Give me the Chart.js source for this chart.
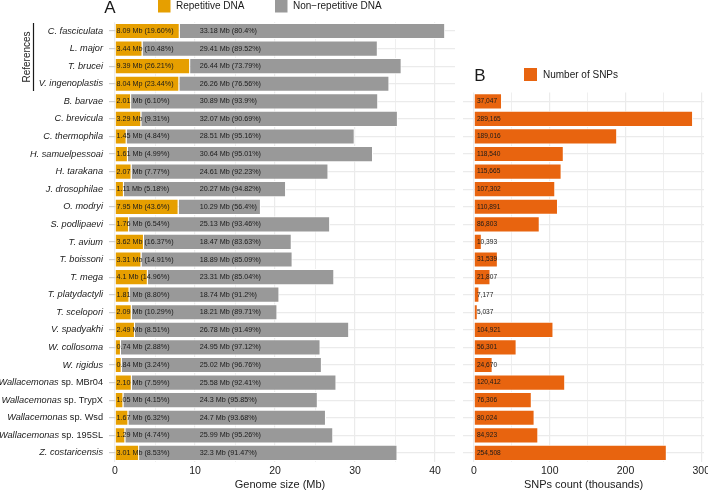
<!DOCTYPE html>
<html>
<head>
<meta charset="utf-8">
<script src="https://cdn.jsdelivr.net/npm/chart.js@4.4.1/dist/chart.umd.min.js"></script>
<style>
  body { margin: 0; background: #fff; }
  #wrapA { position: absolute; left: 0; top: 0; width: 460px; height: 491px; }
  #wrapB { position: absolute; left: 460px; top: 0; width: 248px; height: 491px; }
</style>
</head>
<body>
<div id="wrapA"><canvas id="genomeChart"></canvas></div>
<div id="wrapB"><canvas id="snpChart"></canvas></div>
<script>
// species, top to bottom (first four are the reference genomes)
const species = ['C. fasciculata', 'L. major', 'T. brucei', 'V. ingenoplastis', 'B. barvae', 'C. brevicula',
  'C. thermophila', 'H. samuelpessoai', 'H. tarakana', 'J. drosophilae', 'O. modryi', 'S. podlipaevi',
  'T. avium', 'T. boissoni', 'T. mega', 'T. platydactyli', 'T. scelopori', 'V. spadyakhi', 'W. collosoma',
  'W. rigidus', 'Wallacemonas sp. MBr04', 'Wallacemonas sp. TrypX', 'Wallacemonas sp. Wsd',
  'Wallacemonas sp. 195SL', 'Z. costaricensis'];

// genome size in Mb
const repMb = [8.09, 3.44, 9.39, 8.04, 2.01, 3.29, 1.45, 1.61, 2.07, 1.11, 7.95, 1.76, 3.62, 3.31, 4.1,
  1.81, 2.09, 2.49, 0.74, 0.84, 2.10, 1.05, 1.67, 1.29, 3.01];
const nonRepMb = [33.18, 29.41, 26.44, 26.26, 30.89, 32.07, 28.51, 30.64, 24.61, 20.27, 10.29, 25.13, 18.47,
  18.89, 23.31, 18.74, 18.21, 26.78, 24.95, 25.02, 25.58, 24.3, 24.7, 25.99, 32.3];

const repText = ['8.09 Mb (19.60%)', '3.44 Mb (10.48%)', '9.39 Mb (26.21%)', '8.04 Mp (23.44%)', '2.01 Mb (6.10%)',
  '3.29 Mb (9.31%)', '1.45 Mb (4.84%)', '1.61 Mb (4.99%)', '2.07 Mb (7.77%)', '1.11 Mb (5.18%)', '7.95 Mb (43.6%)',
  '1.76 Mb (6.54%)', '3.62 Mb (16.37%)', '3.31 Mb (14.91%)', '4.1 Mb (14.96%)', '1.81 Mb (8.80%)',
  '2.09 Mb (10.29%)', '2.49 Mb (8.51%)', '0.74 Mb (2.88%)', '0.84 Mb (3.24%)', '2.10 Mb (7.59%)',
  '1.05 Mb (4.15%)', '1.67 Mb (6.32%)', '1.29 Mb (4.74%)', '3.01 Mb (8.53%)'];
const nonRepText = ['33.18 Mb (80.4%)', '29.41 Mb (89.52%)', '26.44 Mb (73.79%)', '26.26 Mb (76.56%)',
  '30.89 Mb (93.9%)', '32.07 Mb (90.69%)', '28.51 Mb (95.16%)', '30.64 Mb (95.01%)', '24.61 Mb (92.23%)',
  '20.27 Mb (94.82%)', '10.29 Mb (56.4%)', '25.13 Mb (93.46%)', '18.47 Mb (83.63%)', '18.89 Mb (85.09%)',
  '23.31 Mb (85.04%)', '18.74 Mb (91.2%)', '18.21 Mb (89.71%)', '26.78 Mb (91.49%)', '24.95 Mb (97.12%)',
  '25.02 Mb (96.76%)', '25.58 Mb (92.41%)', '24.3 Mb (95.85%)', '24.7 Mb (93.68%)', '25.99 Mb (95.26%)',
  '32.3 Mb (91.47%)'];

// SNPs are only shown for the non-reference species
const snpSpecies = species.slice(4);
const snpCounts = [37047, 289165, 189016, 118540, 115665, 107302, 110891, 86803, 10393, 31539, 21807,
  7177, 5037, 104921, 56301, 24670, 120412, 76306, 80024, 84923, 254508];

const genomeTicks = [0, 10, 20, 30, 40];
const snpTicks = [0, 100, 200, 300];

const FONT = '"Liberation Sans", Arial, Helvetica, sans-serif';
const ORANGE = '#E69F00';
const GREY = '#999999';
const SNP_COL = '#E8640F';
const GRID = '#ebebeb';
const NONREP_LABEL_AT = 10.6; // where the non-repetitive text starts (Mb)

function drawSpeciesLabel(ctx, name, xRight, y) {
  // genus italic, "sp. xxx" upright
  const parts = name.split(' sp. ');
  if (parts.length === 2) {
    ctx.font = '9.2px ' + FONT;
    const rest = ' sp. ' + parts[1];
    const wRest = ctx.measureText(rest).width;
    ctx.fillText(rest, xRight, y);
    ctx.font = 'italic 9.2px ' + FONT;
    ctx.fillText(parts[0], xRight - wRest, y);
  } else {
    ctx.font = 'italic 9.2px ' + FONT;
    ctx.fillText(name, xRight, y);
  }
}

const genomeLabels = {
  id: 'genomeLabels',
  afterDatasetsDraw(chart) {
    const { ctx, scales: { x, y } } = chart;
    ctx.save();
    ctx.font = '7.2px ' + FONT;
    ctx.fillStyle = '#1a1a1a';
    ctx.textBaseline = 'middle';
    ctx.textAlign = 'left';
    species.forEach((s, i) => {
      const py = y.getPixelForValue(i);
      ctx.fillText(repText[i], x.getPixelForValue(0) + 1.5, py);
      ctx.fillText(nonRepText[i], x.getPixelForValue(NONREP_LABEL_AT), py);
    });
    ctx.restore();
  },
  afterDraw(chart) {
    const { ctx, chartArea, scales: { y } } = chart;
    ctx.save();
    ctx.fillStyle = '#1a1a1a';
    ctx.textBaseline = 'middle';
    ctx.textAlign = 'right';
    species.forEach((s, i) => drawSpeciesLabel(ctx, s, chartArea.left - 12, y.getPixelForValue(i)));

    // References bracket
    ctx.strokeStyle = '#1a1a1a';
    ctx.lineWidth = 1.2;
    ctx.beginPath();
    ctx.moveTo(33.5, 23);
    ctx.lineTo(33.5, 91);
    ctx.stroke();
    ctx.save();
    ctx.translate(27.5, 57);
    ctx.rotate(-Math.PI / 2);
    ctx.textAlign = 'center';
    ctx.font = '10px ' + FONT;
    ctx.fillText('References', 0, 0);
    ctx.restore();

    // panel letter + legend
    ctx.textAlign = 'center';
    ctx.font = '17px ' + FONT;
    ctx.fillText('A', 110, 8);
    ctx.fillStyle = ORANGE;
    ctx.fillRect(158, 0, 12.5, 12.5);
    ctx.fillStyle = GREY;
    ctx.fillRect(275, 0, 12.5, 12.5);
    ctx.fillStyle = '#1a1a1a';
    ctx.textAlign = 'left';
    ctx.font = '10px ' + FONT;
    ctx.fillText('Repetitive DNA', 176, 6.5);
    ctx.fillText('Non\u2212repetitive DNA', 293, 6.5);

    // axis title
    ctx.textAlign = 'center';
    ctx.font = '11px ' + FONT;
    ctx.fillText('Genome size (Mb)', 280, 485);
    ctx.restore();
  }
};

const snpLabels = {
  id: 'snpLabels',
  afterDatasetsDraw(chart) {
    const { ctx, scales: { x, y } } = chart;
    ctx.save();
    ctx.font = '6.6px ' + FONT;
    ctx.fillStyle = '#1a1a1a';
    ctx.textBaseline = 'middle';
    ctx.textAlign = 'left';
    snpCounts.forEach((v, i) => {
      ctx.fillText(v.toLocaleString('en-US'), x.getPixelForValue(0) + 3, y.getPixelForValue(i));
    });
    ctx.restore();
  },
  afterDraw(chart) {
    const { ctx, chartArea } = chart;
    ctx.save();
    ctx.fillStyle = '#1a1a1a';
    ctx.textBaseline = 'middle';
    ctx.textAlign = 'center';
    ctx.font = '17px ' + FONT;
    ctx.fillText('B', 20, 76);
    ctx.fillStyle = SNP_COL;
    ctx.fillRect(64, 68, 13, 13);
    ctx.fillStyle = '#1a1a1a';
    ctx.textAlign = 'left';
    ctx.font = '10px ' + FONT;
    ctx.fillText('Number of SNPs', 83, 75);
    ctx.textAlign = 'center';
    ctx.font = '11px ' + FONT;
    ctx.fillText('SNPs count (thousands)', (chartArea.left + chartArea.right) / 2, 485);
    ctx.restore();
  }
};

const gridWidth = (ctx) => (ctx.tick && ctx.tick.value % 10 === 0 ? 1.2 : 0.8);

new Chart(document.getElementById('genomeChart'), {
  type: 'bar',
  data: {
    labels: species,
    datasets: [
      { label: 'Repetitive DNA', data: repMb, backgroundColor: ORANGE, borderColor: '#fff', borderWidth: 1 },
      { label: 'Non-repetitive DNA', data: nonRepMb, backgroundColor: GREY, borderColor: '#fff', borderWidth: 1 }
    ]
  },
  options: {
    indexAxis: 'y',
    responsive: true,
    maintainAspectRatio: false,
    animation: false,
    devicePixelRatio: 1,
    layout: { padding: { left: 0, right: 5, top: 22.2, bottom: 0 } },
    datasets: { bar: { barPercentage: 0.92, categoryPercentage: 1 } },
    plugins: { legend: { display: false }, tooltip: { enabled: false } },
    scales: {
      x: {
        stacked: true,
        min: 0,
        max: 42.5,
        afterBuildTicks: (s) => { s.ticks = [0, 5, 10, 15, 20, 25, 30, 35, 40].map(v => ({ value: v })); },
        ticks: {
          padding: 3,
          color: '#222',
          font: { family: FONT, size: 10.5 },
          callback: (v) => (genomeTicks.includes(v) ? String(v) : '')
        },
        grid: { color: GRID, lineWidth: gridWidth, drawTicks: false },
        border: { display: false },
        afterFit: (s) => { s.height = 29.3; s.paddingLeft = 0; s.paddingRight = 0; }
      },
      y: {
        stacked: true,
        ticks: { display: false },
        grid: { offset: false, color: GRID, lineWidth: 1.2, tickColor: '#cfcfcf', tickLength: 6 },
        border: { display: false },
        afterFit: (s) => { s.width = 115; }
      }
    }
  },
  plugins: [genomeLabels]
});

new Chart(document.getElementById('snpChart'), {
  type: 'bar',
  data: {
    labels: snpSpecies,
    datasets: [
      { label: 'Number of SNPs', data: snpCounts.map(v => v / 1000), backgroundColor: SNP_COL, borderColor: '#fff', borderWidth: 1 }
    ]
  },
  options: {
    indexAxis: 'y',
    responsive: true,
    maintainAspectRatio: false,
    animation: false,
    devicePixelRatio: 1,
    layout: { padding: { left: 3, right: 4, top: 92.5, bottom: 0 } },
    datasets: { bar: { barPercentage: 0.92, categoryPercentage: 1 } },
    plugins: { legend: { display: false }, tooltip: { enabled: false } },
    scales: {
      x: {
        min: -14.46,
        max: 303.6,
        afterBuildTicks: (s) => { s.ticks = [0, 50, 100, 150, 200, 250, 300].map(v => ({ value: v })); },
        ticks: {
          padding: 3,
          color: '#222',
          font: { family: FONT, size: 10.5 },
          callback: (v) => (snpTicks.includes(v) ? String(v) : '')
        },
        grid: { color: GRID, lineWidth: (ctx) => (ctx.tick && ctx.tick.value % 100 === 0 ? 1.2 : 0.8), drawTicks: false },
        border: { display: false },
        afterFit: (s) => { s.height = 29.3; s.paddingLeft = 0; s.paddingRight = 0; }
      },
      y: {
        ticks: { display: false },
        grid: { offset: false, color: GRID, lineWidth: 1.2, drawTicks: false },
        border: { display: false },
        afterFit: (s) => { s.width = 0; }
      }
    }
  },
  plugins: [snpLabels]
});
</script>
</body>
</html>
